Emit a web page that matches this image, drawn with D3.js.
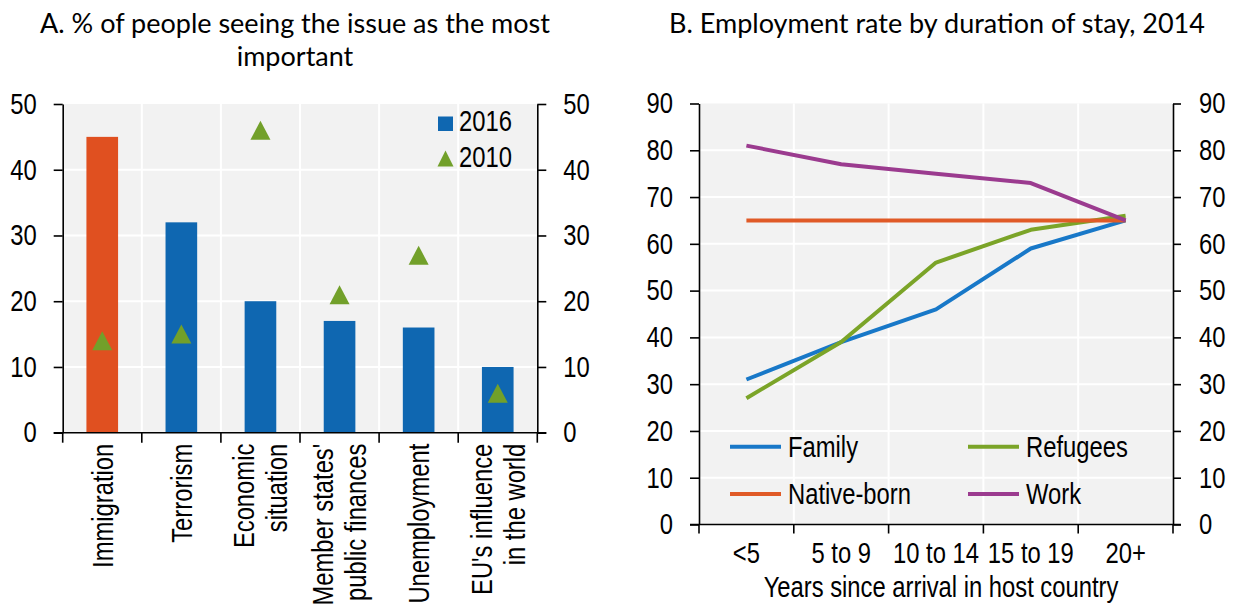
<!DOCTYPE html>
<html>
<head>
<meta charset="utf-8">
<script src="https://cdn.jsdelivr.net/npm/d3@7"></script>
<style>
  body { margin: 0; background: #fff; }
  svg { display: block; }
  .tick text { font-family: "Liberation Sans", Arial, sans-serif; font-size: 29px; fill: #000; }
  .lbl { font-family: "Liberation Sans", Arial, sans-serif; font-size: 29px; fill: #000; }
  .title { font-family: Lato, "Open Sans", sans-serif; font-size: 27px; fill: #000; }
</style>
</head>
<body>
<div id="chart"></div>
<script>
// panel A data
var issues = [["Immigration"], ["Terrorism"], ["Economic", "situation"], ["Member states'", "public finances"], ["Unemployment"], ["EU's influence", "in the world"]];
var share2016 = [45, 32, 20, 17, 16, 10];
var share2010 = [14, 15, 46, 21, 27, 6];
var yTicksA = [0, 10, 20, 30, 40, 50];

// panel B data
var stays = ["<5", "5 to 9", "10 to 14", "15 to 19", "20+"];
var family = [31, 39, 46, 59, 65];
var refugees = [27, 39, 56, 63, 66];
var nativeBorn = [65, 65, 65, 65, 65];
var work = [81, 77, 75, 73, 65];
var yTicksB = [0, 10, 20, 30, 40, 50, 60, 70, 80, 90];

var width = 1234, height = 604;
var blue = "#0f67b1", orange = "#e05020", green = "#72a02a";

var svg = d3.select("#chart").append("svg")
  .attr("width", width).attr("height", height);

// squeeze text to look like Arial Narrow
function narrow(sel) {
  sel.each(function(){
    var len = this.getComputedTextLength();
    d3.select(this).attr("textLength", len * 0.82).attr("lengthAdjust", "spacingAndGlyphs");
  });
}

// ---------- panel A ----------
var A = {left: 62.7, right: 537.3, top: 104, bottom: 432.7};
var xA = d3.scaleBand().domain(issues.map(function(d){ return d.join(" "); }))
  .range([A.left, A.right]).padding(0);
var yA = d3.scaleLinear().domain([0, 50]).range([A.bottom, A.top]);
var bw = xA.bandwidth();

var gA = svg.append("g");
gA.append("rect").attr("x", A.left).attr("y", A.top)
  .attr("width", A.right - A.left).attr("height", A.bottom - A.top).attr("fill", "#f2f2f2");
// grid
gA.selectAll(".hg").data(yTicksA.slice(1, -1)).enter().append("line")
  .attr("x1", A.left).attr("x2", A.right)
  .attr("y1", function(d){ return yA(d); }).attr("y2", function(d){ return yA(d); })
  .attr("stroke", "#fff").attr("stroke-width", 2);
gA.selectAll(".vg").data(xA.domain().slice(1)).enter().append("line")
  .attr("x1", function(d){ return xA(d); }).attr("x2", function(d){ return xA(d); })
  .attr("y1", A.top).attr("y2", A.bottom)
  .attr("stroke", "#fff").attr("stroke-width", 2);

// bars
gA.selectAll(".bar").data(share2016).enter().append("rect")
  .attr("x", function(d, i){ return xA(issues[i].join(" ")) + bw * 0.3; })
  .attr("width", bw * 0.4)
  .attr("y", function(d){ return yA(d); })
  .attr("height", function(d){ return yA(0) - yA(d); })
  .attr("fill", function(d, i){ return issues[i][0] == "Immigration" ? orange : blue; });

// triangles (bbox centred)
function tri(cx, cy, w, h) {
  return "M" + cx + "," + (cy - h / 2) + "L" + (cx + w / 2) + "," + (cy + h / 2) + "L" + (cx - w / 2) + "," + (cy + h / 2) + "Z";
}
gA.selectAll(".tri").data(share2010).enter().append("path")
  .attr("d", function(d, i){ return tri(xA(issues[i].join(" ")) + bw / 2, yA(d), 20, 19); })
  .attr("fill", green);

// axes
gA.append("g").attr("transform", "translate(" + A.left + ",0)")
  .call(d3.axisLeft(yA).tickValues(yTicksA).tickSize(9).tickSizeOuter(0).tickPadding(17))
  .call(function(g){ g.selectAll("line,path").attr("stroke", "#000").attr("stroke-width", 1.6); });
gA.append("g").attr("transform", "translate(" + A.right + ",0)")
  .call(d3.axisRight(yA).tickValues(yTicksA).tickSize(9).tickSizeOuter(0).tickPadding(17))
  .call(function(g){ g.selectAll("line,path").attr("stroke", "#000").attr("stroke-width", 1.6); });
gA.append("line").attr("x1", A.left - 9).attr("x2", A.right + 9)
  .attr("y1", A.bottom).attr("y2", A.bottom).attr("stroke", "#000").attr("stroke-width", 1.6);
gA.selectAll(".xt").data(xA.domain().concat(["end"])).enter().append("line")
  .attr("x1", function(d){ return d == "end" ? A.right : xA(d); })
  .attr("x2", function(d){ return d == "end" ? A.right : xA(d); })
  .attr("y1", A.bottom).attr("y2", A.bottom + 10)
  .attr("stroke", "#000").attr("stroke-width", 1.6);

// rotated category labels
var lineH = 33;
issues.forEach(function(lines, i){
  var cx = xA(lines.join(" ")) + bw / 2;
  var t = gA.append("text").attr("class", "lbl")
    .attr("transform", "translate(" + cx + "," + (A.bottom + 11) + ") rotate(-90)")
    .attr("text-anchor", "end");
  lines.forEach(function(s, j){
    t.append("tspan").attr("x", 0).attr("y", 10.4 + (j - (lines.length - 1) / 2) * lineH).text(s);
  });
});

// legend A
gA.append("rect").attr("x", 438).attr("y", 116.5).attr("width", 15).attr("height", 14.5).attr("fill", blue);
gA.append("text").attr("class", "lbl").attr("x", 459).attr("y", 131).text("2016");
gA.append("path").attr("d", tri(445.5, 158.5, 16, 16)).attr("fill", green);
gA.append("text").attr("class", "lbl").attr("x", 459).attr("y", 167).text("2010");

// title A
gA.append("text").attr("class", "title").attr("x", 295).attr("y", 33).attr("text-anchor", "middle")
  .text("A. % of people seeing the issue as the most");
gA.append("text").attr("class", "title").attr("x", 295).attr("y", 66).attr("text-anchor", "middle")
  .text("important");

// ---------- panel B ----------
var B = {left: 699, right: 1173, top: 103.5, bottom: 524.5};
var xB = d3.scaleBand().domain(stays).range([B.left, B.right]).padding(0);
var yB = d3.scaleLinear().domain([0, 90]).range([B.bottom, B.top]);
var bwB = xB.bandwidth();

var gB = svg.append("g");
gB.append("rect").attr("x", B.left).attr("y", B.top)
  .attr("width", B.right - B.left).attr("height", B.bottom - B.top).attr("fill", "#f2f2f2");
gB.selectAll(".hg").data(yTicksB.slice(1, -1)).enter().append("line")
  .attr("x1", B.left).attr("x2", B.right)
  .attr("y1", function(d){ return yB(d); }).attr("y2", function(d){ return yB(d); })
  .attr("stroke", "#fff").attr("stroke-width", 2);
gB.selectAll(".vg").data(stays.slice(1)).enter().append("line")
  .attr("x1", function(d){ return xB(d); }).attr("x2", function(d){ return xB(d); })
  .attr("y1", B.top).attr("y2", B.bottom)
  .attr("stroke", "#fff").attr("stroke-width", 2);

var series = [
  {name: "Family", values: family, color: "#1878c8"},
  {name: "Refugees", values: refugees, color: "#7ba428"},
  {name: "Native-born", values: nativeBorn, color: "#e05a27"},
  {name: "Work", values: work, color: "#9b3b8f"}
];
var line = d3.line()
  .x(function(d, i){ return xB(stays[i]) + bwB / 2; })
  .y(function(d){ return yB(d); });
gB.selectAll(".ln").data(series).enter().append("path")
  .attr("d", function(d){ return line(d.values); })
  .attr("fill", "none").attr("stroke", function(d){ return d.color; })
  .attr("stroke-width", 4).attr("stroke-linejoin", "round");

gB.append("g").attr("transform", "translate(" + B.left + ",0)")
  .call(d3.axisLeft(yB).tickValues(yTicksB).tickSize(9).tickSizeOuter(0).tickPadding(17))
  .call(function(g){ g.selectAll("line,path").attr("stroke", "#000").attr("stroke-width", 1.6); });
gB.append("g").attr("transform", "translate(" + B.right + ",0)")
  .call(d3.axisRight(yB).tickValues(yTicksB).tickSize(8).tickSizeOuter(0).tickPadding(18))
  .call(function(g){ g.selectAll("line,path").attr("stroke", "#000").attr("stroke-width", 1.6); });
gB.append("g").attr("transform", "translate(0," + B.bottom + ")")
  .call(d3.axisBottom(xB).tickSize(0).tickPadding(18))
  .call(function(g){ g.select(".domain").remove(); });
gB.append("line").attr("x1", B.left - 9).attr("x2", B.right + 8)
  .attr("y1", B.bottom).attr("y2", B.bottom).attr("stroke", "#000").attr("stroke-width", 1.6);
gB.selectAll(".xt").data(stays.concat(["end"])).enter().append("line")
  .attr("x1", function(d){ return d == "end" ? B.right : xB(d); })
  .attr("x2", function(d){ return d == "end" ? B.right : xB(d); })
  .attr("y1", B.bottom).attr("y2", B.bottom + 9)
  .attr("stroke", "#000").attr("stroke-width", 1.6);
gB.append("text").attr("class", "lbl").attr("x", 941).attr("y", 597).attr("text-anchor", "middle")
  .text("Years since arrival in host country");

// legend B
var legPos = [[730, 446.7], [968, 446.7], [730, 494], [968, 494]];
series.forEach(function(s, i){
  var p = legPos[i];
  gB.append("line").attr("x1", p[0]).attr("x2", p[0] + 51).attr("y1", p[1]).attr("y2", p[1])
    .attr("stroke", s.color).attr("stroke-width", 4);
  gB.append("text").attr("class", "lbl").attr("x", p[0] + 58).attr("y", p[1] + 10).text(s.name);
});

gB.append("text").attr("class", "title").attr("x", 937).attr("y", 33).attr("text-anchor", "middle")
  .text("B. Employment rate by duration of stay, 2014");

// narrow all the Arial-like texts
narrow(svg.selectAll(".tick text"));
narrow(svg.selectAll("text.lbl").filter(function(){ return this.querySelector("tspan") == null; }));
narrow(svg.selectAll("text.lbl tspan"));
</script>
</body>
</html>
